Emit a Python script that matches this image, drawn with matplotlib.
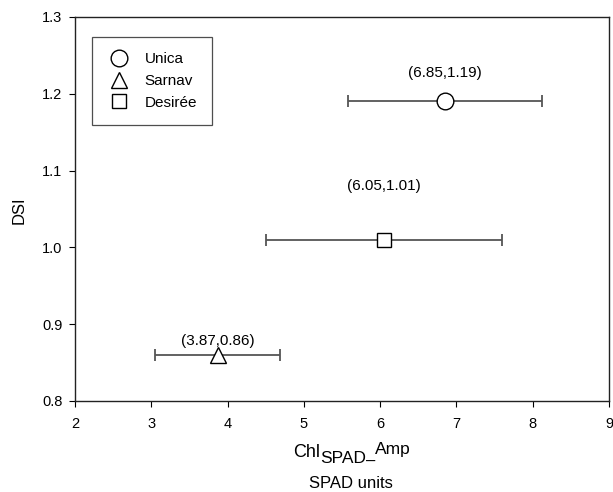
import matplotlib
matplotlib.use("Agg")
import matplotlib.pyplot as plt
from matplotlib.lines import Line2D

plt.rcParams['font.family'] = ['Liberation Sans', 'DejaVu Sans']

cultivars = ['Unica', 'Sarnav', 'Desirée']
x_vals = [6.85, 3.87, 6.05]
y_vals = [1.19, 0.86, 1.01]
x_err = [1.27, 0.82, 1.55]
markers = ['o', '^', 's']
marker_sizes = [12, 12, 10]
label_offsets = [0.037, 0.018, 0.07]
xticks = [2, 3, 4, 5, 6, 7, 8, 9]
yticks = [0.8, 0.9, 1.0, 1.1, 1.2, 1.3]

W, H = 613, 492
fig = plt.figure(figsize=(W / 100, H / 100), dpi=100)
ax = fig.add_axes([75 / W, (H - 401) / H, 534 / W, 384 / H])

for x, y, e, m, ms, off in zip(x_vals, y_vals, x_err, markers, marker_sizes, label_offsets):
    ax.errorbar(x, y, xerr=e, fmt='none', ecolor='#555555', elinewidth=1.3,
                capsize=4, capthick=1.3, zorder=2)
    ax.plot(x, y, marker=m, markersize=ms, markerfacecolor='white',
            markeredgecolor='black', markeredgewidth=1.0, linestyle='none', zorder=3)
    ax.text(x, y + off, f"({x:.2f},{y:.2f})", ha='center', va='center', fontsize=11)

ax.set_xlim(2, 9)
ax.set_ylim(0.8, 1.3)
ax.set_xticks(xticks)
ax.set_xticklabels([str(t) for t in xticks])
ax.set_yticks(yticks)
ax.set_yticklabels([f"{t:.1f}" for t in yticks])
ax.tick_params(axis='x', direction='out', length=4.5, labelsize=10.5, pad=7)
ax.tick_params(axis='y', direction='out', length=4.5, labelsize=10.5, pad=4.5)
for sp in ax.spines.values():
    sp.set_linewidth(1.0)
    sp.set_color('#222222')

fig.text(19 / W, (H - 210) / H, 'DSI', rotation=90, ha='center', va='center', fontsize=12)

# x label built from pieces (regular-size subscript / superscript)
renderer = fig.canvas.get_renderer()
pieces = [('Chl', 13, 457), ('SPAD', 12.5, 463), ('–', 12, 466), ('Amp', 12.5, 454)]
xpos = 293
for txt, size, base in pieces:
    t = fig.text(xpos / W, (H - base) / H, txt, fontsize=size, ha='left', va='baseline')
    bb = t.get_window_extent(renderer)
    xpos = bb.x1
fig.text(351 / W, (H - 488) / H, 'SPAD units', ha='center', va='baseline', fontsize=12)

handles = [Line2D([0], [0], marker=m, linestyle='none', markersize=ms,
                  markerfacecolor='white', markeredgecolor='black', markeredgewidth=1.0)
           for m, ms in zip(markers, marker_sizes)]
leg = ax.legend(handles, cultivars, loc='upper left', bbox_to_anchor=(17 / 534, (401 - 37) / 384),
                fontsize=11, frameon=True, fancybox=False, edgecolor='#222222',
                handletextpad=0.95, labelspacing=0.5, borderpad=1.0, handlelength=1.5,
                borderaxespad=0)
leg.get_frame().set_linewidth(0.9)

fig.savefig('out.png', dpi=100)
